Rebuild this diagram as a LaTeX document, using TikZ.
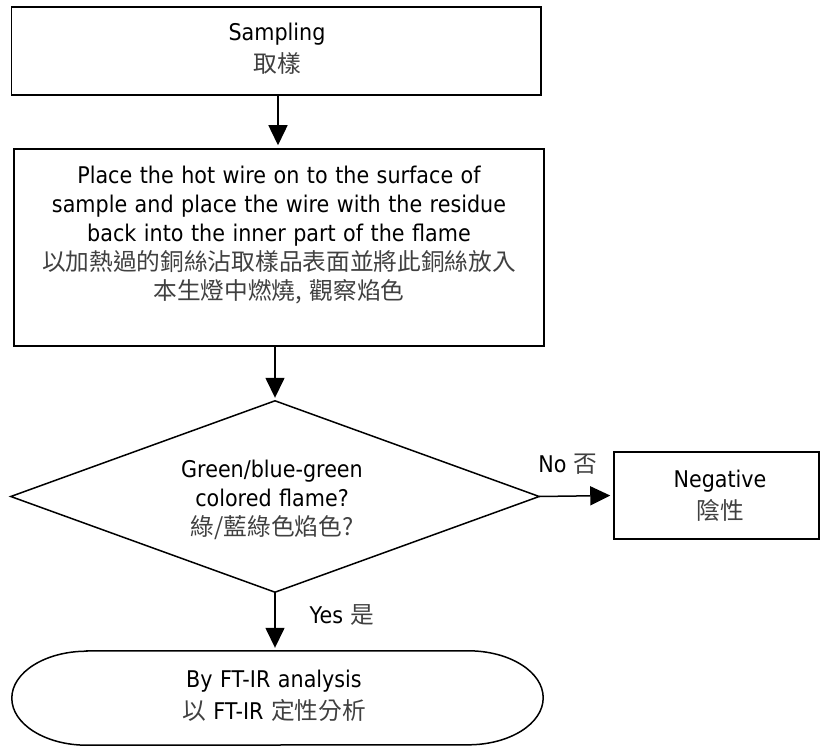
\documentclass[tikz,border=0pt]{standalone}
\usepackage{fontspec}
\setmainfont{DejaVu Sans}[FakeStretch=0.9]
\newfontfamily\cjkfont{Noto Sans CJK TC}[Scale=1.03]
\usetikzlibrary{arrows.meta}
\newcommand\zhtxt[1]{{\cjkfont\color{black!75}#1}}
\newcommand\setfnt{\fontsize{23}{29}\selectfont\spaceskip=7.5pt plus 1pt\relax}
\begin{document}
\begin{tikzpicture}[x=1pt,y=-1pt,
  frame/.style={draw, line width=1.5pt, inner sep=0pt},
  txt/.style={align=center, inner sep=0pt, font=\setfnt},
  arr/.style={line width=1.5pt, -{Triangle[length=20pt,width=19pt]}, shorten >=3pt},
  lbl/.style={inner sep=0pt, font=\setfnt},
  line/.style={line width=1.5pt}]
\useasboundingbox (0,0) rectangle (820,746);
% box 1
\node[frame, minimum width=529.5pt, minimum height=88pt] (b1) at (276.25,51) {};
\node[txt] (t1) at (277,49) {Sampling\\[3pt]\zhtxt{取樣}};
% box 2
\node[frame, minimum width=530pt, minimum height=197pt] (b2) at (279,247.5) {};
\node[txt, anchor=north] (t2) at (279,166) {Place the hot wire on to the surface of\\
sample and place the wire with the residue\\
back into the inner part of the flame\\
\zhtxt{以加熱過的銅絲沾取樣品表面並將此銅絲放入}\\
\zhtxt{本生燈中燃燒, 觀察焰色}};
% decision
\node[minimum width=528pt, minimum height=191pt, inner sep=0pt] (d) at (275,496.5) {};
\draw[line] (d.north) -- (d.east) -- (d.south) -- (d.west) -- cycle;
\node[txt] (td) at (272,500) {Green/blue-green\\colored flame?\\\zhtxt{綠/藍綠色焰色?}};
% negative
\node[frame, minimum width=205pt, minimum height=87pt] (neg) at (716.5,495.5) {};
\node[txt] (tn) at (720,495.5) {Negative\\[3pt]\zhtxt{陰性}};
% terminal
\node[minimum width=531pt, minimum height=94pt, inner sep=0pt] (fin) at (277.5,698) {};
\draw[line] ([xshift=75pt]fin.north west) -- ([xshift=-75pt]fin.north east)
  arc[start angle=90, end angle=-90, x radius=75pt, y radius=47pt]
  -- ([xshift=75pt]fin.south west)
  arc[start angle=270, end angle=90, x radius=75pt, y radius=47pt] -- cycle;
\node[txt] (tf) at (274,696) {By FT-IR analysis\\[3pt]\zhtxt{以} FT-IR \zhtxt{定性分析}};
% labels
\node[lbl] (yes) at (342,615) {Yes \zhtxt{是}};
\node[lbl] (no) at (568,464) {No \zhtxt{否}};
% arrows
\draw[arr] ([xshift=1.75pt]b1.south) -- ([xshift=1.75pt]b1.south |- b2.north);
\draw[arr] (b2.south -| d.north) -- (d.north);
\draw[arr] (d.east) -- (neg.west);
\draw[arr] (d.south) -- (d.south |- fin.north);
\end{tikzpicture}
\end{document}
